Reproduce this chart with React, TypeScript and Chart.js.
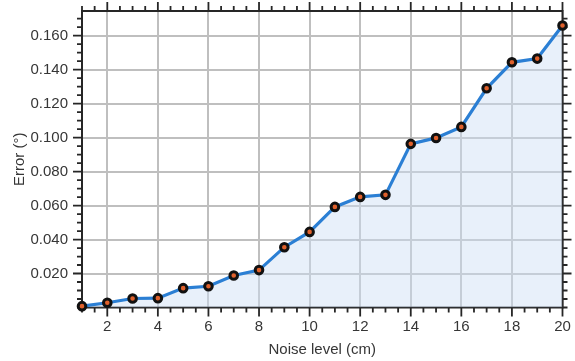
import React, { useEffect, useRef } from "react";
import { Chart, registerables } from "chart.js";

Chart.register(...registerables);

const noiseLevels = [1, 2, 3, 4, 5, 6, 7, 8, 9, 10, 11, 12, 13, 14, 15, 16, 17, 18, 19, 20];
const errorValues = [0.0008, 0.0028, 0.0053, 0.0055, 0.0114, 0.0125, 0.0188, 0.022, 0.0355, 0.0445, 0.0592, 0.0651, 0.0663, 0.0963, 0.0998, 0.1063, 0.129, 0.1443, 0.1465, 0.166];
const xTickValues = [2, 4, 6, 8, 10, 12, 14, 16, 18, 20];
const yTickValues = [0.02, 0.04, 0.06, 0.08, 0.1, 0.12, 0.14, 0.16];
const xMinorStep = 0.5;
const yMinorStep = 0.005;
const xLabel = "Noise level (cm)";
const yLabel = "Error (°)";

const FONT = "'Liberation Sans', Arial, sans-serif";
const TEXT = "#363636";
const AXIS = "#262626";
const GRID = "#bfbfbf";

const framePlugin = {
  id: "frame",
  beforeDatasetsDraw(chart: any) {
    const { ctx, chartArea: a, scales } = chart;
    const xs = scales.x;
    const ys = scales.y;
    ctx.save();
    ctx.strokeStyle = AXIS;
    ctx.lineWidth = 2;
    ctx.strokeRect(a.left, a.top, a.right - a.left, a.bottom - a.top);
    ctx.lineWidth = 1.8;
    const isMajor = (v: number, list: number[]) => list.some((t) => Math.abs(t - v) < 1e-9);
    for (let v = xs.min; v <= xs.max + 1e-9; v += xMinorStep) {
      const px = xs.getPixelForValue(v);
      const len = isMajor(v, xTickValues) ? 9 : 5;
      ctx.beginPath();
      ctx.moveTo(px, a.bottom);
      ctx.lineTo(px, a.bottom + len);
      ctx.moveTo(px, a.top);
      ctx.lineTo(px, a.top - len);
      ctx.stroke();
    }
    for (let v = ys.min; v <= ys.max + 1e-9; v += yMinorStep) {
      const py = ys.getPixelForValue(v);
      const len = isMajor(Math.round(v * 1000) / 1000, yTickValues) ? 9 : 5;
      ctx.beginPath();
      ctx.moveTo(a.left, py);
      ctx.lineTo(a.left - len, py);
      ctx.moveTo(a.right, py);
      ctx.lineTo(a.right + len, py);
      ctx.stroke();
    }
    ctx.restore();
  },
};

export default function App() {
  const ref = useRef<HTMLCanvasElement | null>(null);
  useEffect(() => {
    if (!ref.current) return;
    const chart = new Chart(ref.current, {
      type: "line",
      data: {
        datasets: [
          {
            data: noiseLevels.map((x, i) => ({ x, y: errorValues[i] })),
            borderColor: "#2b7fd4",
            borderWidth: 3.2,
            backgroundColor: "rgba(205, 222, 244, 0.45)",
            fill: "origin",
            pointRadius: 3.8,
            pointBorderWidth: 3,
            pointBackgroundColor: "#e0612c",
            pointBorderColor: "#111111",
            tension: 0,
            clip: false as any,
          },
        ],
      },
      options: {
        animation: false,
        responsive: false,
        maintainAspectRatio: false,
        layout: { padding: { left: 0, right: 12.5, top: 11, bottom: 0 } },
        plugins: { legend: { display: false }, tooltip: { enabled: false } },
        scales: {
          x: {
            type: "linear",
            min: 1,
            max: 20,
            afterBuildTicks: (s: any) => {
              s.ticks = xTickValues.map((v) => ({ value: v }));
            },
            afterFit: (s: any) => {
              s.height = 53.5;
              s.paddingLeft = 0;
              s.paddingRight = 0;
            },
            grid: { color: GRID, lineWidth: 2, drawTicks: false },
            border: { display: false },
            ticks: {
              padding: 10.5,
              color: TEXT,
              font: { family: FONT, size: 15 },
              maxRotation: 0,
              autoSkip: false,
            },
            title: {
              display: true,
              text: xLabel,
              color: TEXT,
              font: { family: FONT, size: 15 },
              padding: { top: 0, bottom: 2 },
            },
          },
          y: {
            type: "linear",
            min: 0,
            max: 0.1745,
            afterBuildTicks: (s: any) => {
              s.ticks = yTickValues.map((v) => ({ value: v }));
            },
            afterFit: (s: any) => {
              s.width = 82;
              s.paddingTop = 0;
              s.paddingBottom = 0;
            },
            grid: { color: GRID, lineWidth: 2, drawTicks: false },
            border: { display: false },
            ticks: {
              padding: 14,
              color: TEXT,
              font: { family: FONT, size: 15 },
              callback: (v: any) => Number(v).toFixed(3),
            },
            title: {
              display: true,
              text: yLabel,
              color: TEXT,
              font: { family: FONT, size: 15 },
              padding: { top: 10.5, bottom: 0 },
            },
          },
        },
      },
      plugins: [framePlugin],
    });
    return () => chart.destroy();
  }, []);
  return (
    <div style={{ position: "absolute", left: 0, top: 0, width: 575, height: 361, background: "#fff" }}>
      <canvas ref={ref} width={575} height={361} style={{ width: 575, height: 361 }} />
    </div>
  );
}
